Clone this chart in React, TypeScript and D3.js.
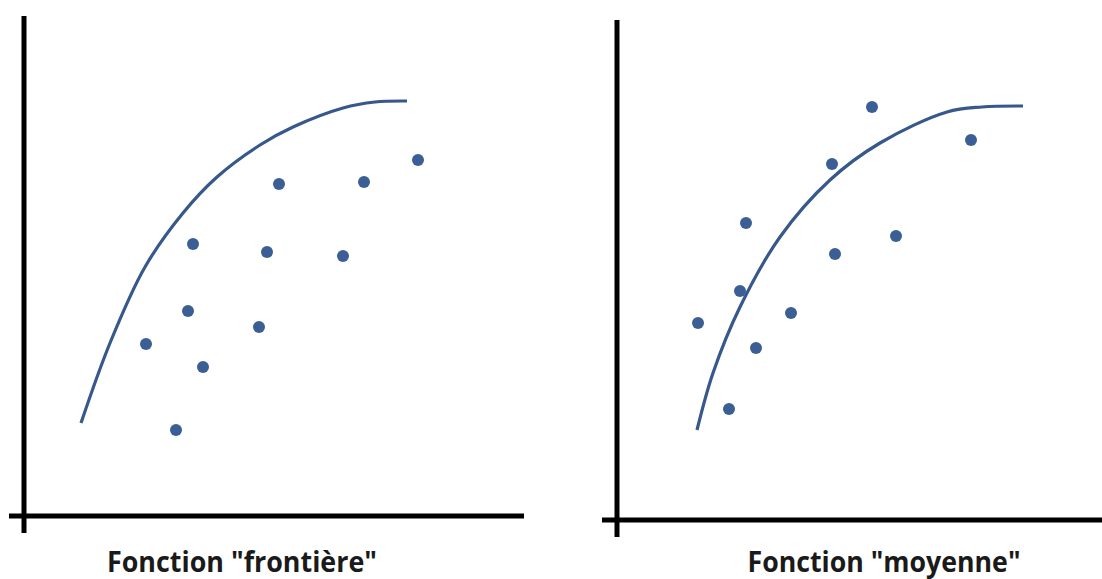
import * as d3 from 'd3';
import React, { useRef, useEffect } from 'react';

const width = 1102;
const height = 579;

// values, both panels on a 0..100 scale
const frontierePoints: [number, number][] = [
  [24.4, 34.4],
  [30.4, 17.2],
  [32.8, 41],
  [33.8, 54.4],
  [35.8, 29.8],
  [47, 37.8],
  [48.6, 52.8],
  [51, 66.4],
  [63.8, 52],
  [68, 66.8],
  [78.8, 71.2],
];

const frontiereCurve: [number, number][] = [
  [11.4, 18.6],
  [17.2, 34.6],
  [24.2, 49.8],
  [31.8, 60.6],
  [38.6, 67.8],
  [47.2, 74.2],
  [53.8, 77.8],
  [63.8, 81.6],
  [70.2, 82.8],
  [76.6, 83],
];

const moyennePoints: [number, number][] = [
  [16.2, 39.4],
  [22.4, 22.2],
  [24.6, 45.8],
  [25.8, 59.4],
  [27.8, 34.4],
  [34.8, 41.4],
  [43, 71.2],
  [43.6, 53.2],
  [51, 82.6],
  [55.8, 56.8],
  [70.8, 76],
];

const moyenneCurve: [number, number][] = [
  [16, 18],
  [19.2, 29.4],
  [24.6, 42.6],
  [32.6, 56.6],
  [42.6, 68],
  [52.6, 75.4],
  [66, 81.6],
  [73, 82.6],
  [81.2, 82.8],
];

const titles = ['Fonction "frontière"', 'Fonction "moyenne"'];

const panels = [
  { ox: 24, oy: 516, points: frontierePoints, curve: frontiereCurve, title: titles[0], titleX: 43.6, titleLen: 270 },
  { ox: 617, oy: 520, points: moyennePoints, curve: moyenneCurve, title: titles[1], titleX: 53.4, titleLen: 273 },
];

const size = 500;
const overhang = 17;
const titleBaseline = 572;

function App() {
  const ref = useRef<SVGSVGElement>(null);

  useEffect(() => {
    const svg = d3.select(ref.current);
    svg.selectAll('*').remove();

    panels.forEach((p) => {
      const x = d3.scaleLinear().domain([0, 100]).range([p.ox, p.ox + size]);
      const y = d3.scaleLinear().domain([0, 100]).range([p.oy, p.oy - size]);
      const g = svg.append('g');

      // axes, crossing a little past the origin
      g.append('line')
        .attr('x1', x(0))
        .attr('x2', x(0))
        .attr('y1', y(100))
        .attr('y2', y(0) + overhang)
        .attr('stroke', '#000')
        .attr('stroke-width', 5);
      g.append('line')
        .attr('x1', x(0) - overhang + 2)
        .attr('x2', x(100))
        .attr('y1', y(0))
        .attr('y2', y(0))
        .attr('stroke', '#000')
        .attr('stroke-width', 5);

      const line = d3
        .line<[number, number]>()
        .x((d) => x(d[0]))
        .y((d) => y(d[1]))
        .curve(d3.curveCatmullRom.alpha(0.5));

      g.append('path')
        .attr('d', line(p.curve))
        .attr('fill', 'none')
        .attr('stroke', '#36588b')
        .attr('stroke-width', 3.2);

      g.selectAll('circle')
        .data(p.points)
        .enter()
        .append('circle')
        .attr('cx', (d) => x(d[0]))
        .attr('cy', (d) => y(d[1]))
        .attr('r', 6)
        .attr('fill', '#3b5f95');

      g.append('text')
        .attr('x', x(p.titleX))
        .attr('y', titleBaseline)
        .attr('text-anchor', 'middle')
        .attr('font-family', '"Open Sans", sans-serif')
        .attr('font-weight', 700)
        .attr('font-size', 29)
        .attr('textLength', p.titleLen)
        .attr('lengthAdjust', 'spacingAndGlyphs')
        .attr('fill', '#1a1a1a')
        .text(p.title);
    });
  }, []);

  return (
    <div style={{ position: 'absolute', left: 0, top: 0, width, height, background: '#fff' }}>
      <svg ref={ref} width={width} height={height} style={{ display: 'block' }} />
    </div>
  );
}

export default App;
